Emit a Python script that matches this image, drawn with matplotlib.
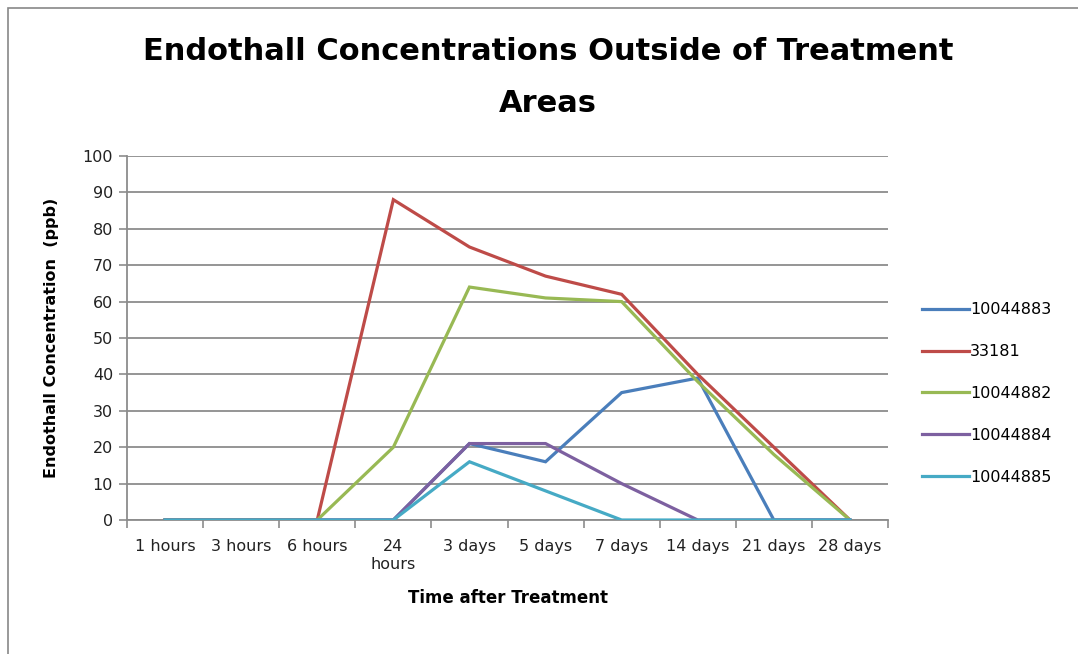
import matplotlib
matplotlib.use("Agg")
import matplotlib.pyplot as plt
from matplotlib.patches import Rectangle
import numpy as np

categories = ["1 hours", "3 hours", "6 hours", "24\nhours", "3 days", "5 days",
              "7 days", "14 days", "21 days", "28 days"]
series_names = ["10044883", "33181", "10044882", "10044884", "10044885"]
s_10044883 = [0, 0, 0, 0, 21, 16, 35, 39, 0, 0]
s_33181 = [0, 0, 0, 88, 75, 67, 62, 40, 20, 0]
s_10044882 = [0, 0, 0, 20, 64, 61, 60, 38, 18, 0]
s_10044884 = [0, 0, 0, 0, 21, 21, 10, 0, 0, 0]
s_10044885 = [0, 0, 0, 0, 16, 8, 0, 0, 0, 0]
colors = ["#4A7EBB", "#BE4B48", "#98B954", "#7D60A0", "#46AAC5"]

W, H = 1078, 654
fig = plt.figure(figsize=(W / 100, H / 100), dpi=100)
fig.patch.set_facecolor("white")
fig.add_artist(Rectangle((8 / W, -0.1), 1.2, (H - 8) / H + 0.1, transform=fig.transFigure,
                         fill=False, edgecolor="#878787", linewidth=1.2))

ax = fig.add_axes([127 / W, (H - 520) / H, (888 - 127) / W, (520 - 156) / H])
x = np.arange(len(categories))
data = [s_10044883, s_33181, s_10044882, s_10044884, s_10044885]
for name, vals, c in zip(series_names, data, colors):
    ax.plot(x, vals, color=c, linewidth=2.3, label=name, solid_joinstyle="miter", zorder=3)

ax.set_xlim(-0.5, len(categories) - 0.5)
ax.set_ylim(0, 100)
ax.set_yticks(np.arange(0, 101, 10))
ax.yaxis.grid(True, color="#8C8C8C", linewidth=1.3)
ax.set_axisbelow(True)
ax.set_xticks(x)
ax.set_xticklabels(categories)
ax.set_xticks(np.arange(-0.5, len(categories), 1), minor=True)
ax.tick_params(axis="x", which="major", length=0, pad=14, labelsize=11.5, colors="#222222")
ax.tick_params(axis="x", which="minor", length=6, width=1.2, color="#8C8C8C", direction="out")
ax.tick_params(axis="y", length=6, width=1.2, color="#8C8C8C", labelsize=11.5,
               labelcolor="#222222", pad=4)
for s in ["top", "right"]:
    ax.spines[s].set_visible(False)
for s in ["left", "bottom"]:
    ax.spines[s].set_color("#8C8C8C")
    ax.spines[s].set_linewidth(1.3)

ax.set_ylabel("Endothall Concentration  (ppb)", fontsize=11.5, fontweight="bold", labelpad=17)
ax.set_xlabel("Time after Treatment", fontsize=12, fontweight="bold", labelpad=12)

fig.text(548 / W, 1 - 51 / H, "Endothall Concentrations Outside of Treatment",
         ha="center", va="center", fontsize=22, fontweight="bold")
fig.text(548 / W, 1 - 103 / H, "Areas", ha="center", va="center", fontsize=22, fontweight="bold")

leg = fig.legend(loc="upper left", bbox_to_anchor=(908 / W, 1 - 288 / H), frameon=False,
                 fontsize=11.5, handlelength=2.9, handletextpad=0.1, labelspacing=1.68)

fig.savefig("out.png", dpi=100)
